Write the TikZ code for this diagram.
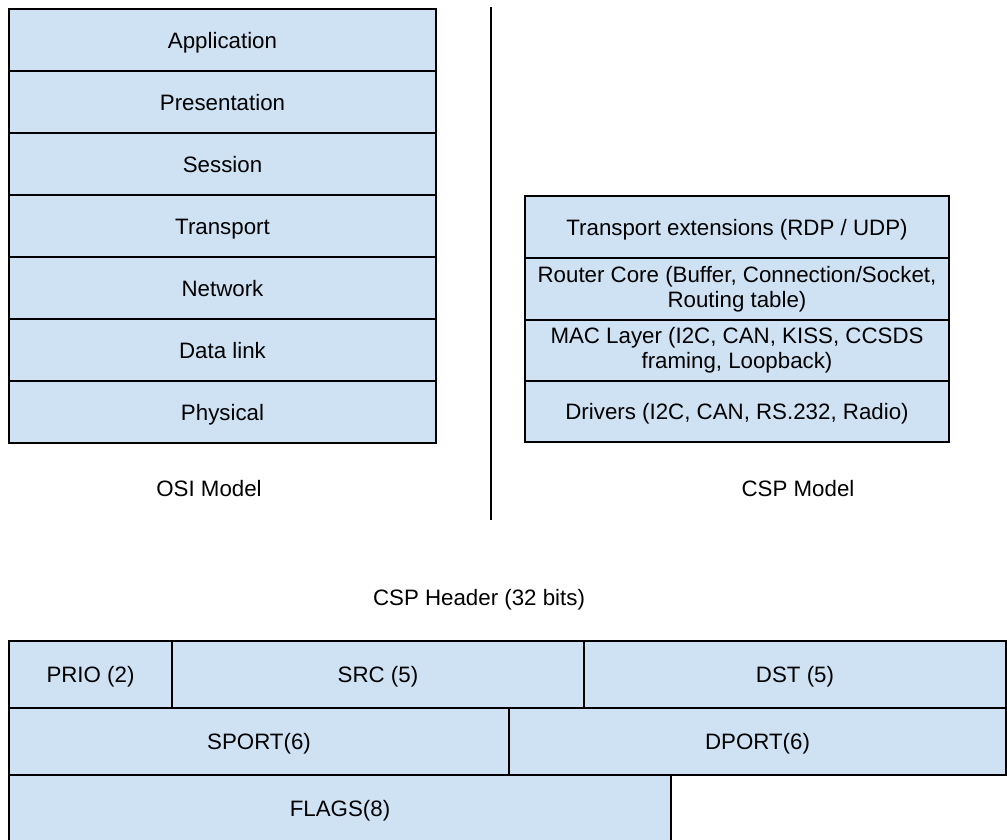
\documentclass[tikz,border=0pt]{standalone}
\usepackage{fontspec}
\setmainfont{Liberation Sans}
\usepackage{tikz}

\definecolor{layerblue}{HTML}{CFE2F3}

\begin{document}
\begin{tikzpicture}[x=1pt,y=-1pt,
    font=\fontsize{22.3}{25}\selectfont,
    layer/.style={draw,fill=layerblue,line width=2pt,inner sep=0pt,align=center,minimum height=62pt},
    oneline/.style={text height=16pt,text depth=0pt},
    osilayer/.style={layer,oneline,minimum width=427pt},
    csplayer/.style={layer,minimum width=424pt},
    field/.style={layer,oneline,minimum height=67pt},
    caption/.style={inner sep=0pt}]
  \useasboundingbox (0,0) rectangle (1007,839);
  \clip (0,0) rectangle (1007,839);
  % OSI stack
  \node[osilayer] (osi1) at (222.5,40) {Application};
  \node[osilayer] (osi2) at (222.5,102) {Presentation};
  \node[osilayer] (osi3) at (222.5,164) {Session};
  \node[osilayer] (osi4) at (222.5,226) {Transport};
  \node[osilayer] (osi5) at (222.5,288) {Network};
  \node[osilayer] (osi6) at (222.5,350) {Data link};
  \node[osilayer] (osi7) at (222.5,412) {Physical};
  \node[caption] (osilabel) at (209,489) {OSI Model};
  % divider
  \coordinate (divtop) at (491,7);
  \coordinate (divbot) at (491,520);
  \draw[line width=2pt] (divtop) -- (divbot);
  % CSP stack
  \node[csplayer,oneline] (csp1) at (737,227) {Transport extensions (RDP / UDP)};
  \node[csplayer] (csp2) at (737,289) {Router Core (Buffer, Connection/Socket,\\Routing table)};
  \node[csplayer,minimum height=61pt] (csp3) at (737,350.5) {MAC Layer (I2C, CAN, KISS, CCSDS\\framing, Loopback)};
  \node[csplayer,oneline,minimum height=61pt] (csp4) at (737,411.5) {Drivers (I2C, CAN, RS.232, Radio)};
  \node[caption] (csplabel) at (798,489) {CSP Model};
  % header
  \node[caption] (hdrlabel) at (479,600) {CSP Header (32 bits)};
  \node[field,minimum width=163pt] (prio) at (90.5,674.5) {PRIO (2)};
  \node[field,minimum width=412pt] (src) at (378,674.5) {SRC (5)};
  \node[field,minimum width=422pt] (dst) at (795,674.5) {DST (5)};
  \node[field,minimum width=500pt] (sport) at (259,741.5) {SPORT(6)};
  \node[field,minimum width=497pt] (dport) at (757.5,741.5) {DPORT(6)};
  \node[field,minimum width=662pt] (flags) at (340,808.5) {FLAGS(8)};
\end{tikzpicture}
\end{document}
